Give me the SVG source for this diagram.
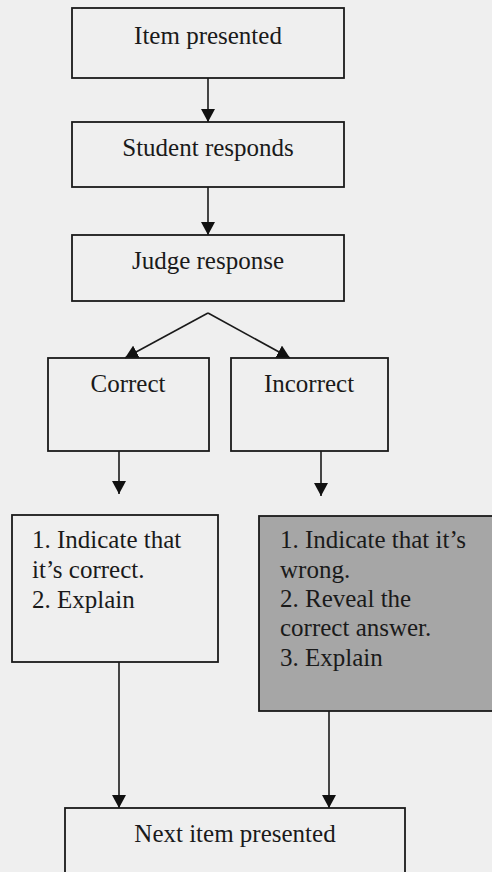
<svg xmlns="http://www.w3.org/2000/svg" width="492" height="872" viewBox="0 0 492 872">
<style>
.box{fill:none;stroke:#1a1a1a;stroke-width:1.8}
.gray{fill:#a6a6a6;stroke:#1a1a1a;stroke-width:1.8}
.lbl{font-family:"Liberation Serif","Times New Roman",serif;font-size:25px;fill:#1a1a1a}
.mid{text-anchor:middle}
.conn{stroke:#1a1a1a;stroke-width:1.6;fill:none;marker-end:url(#ah)}
</style>
<defs>
<marker id="ah" markerUnits="userSpaceOnUse" markerWidth="14" markerHeight="14" refX="13" refY="7" orient="auto">
<path d="M0,0 L13,7 L0,14 z" fill="#111"/>
</marker>
</defs>
<rect x="0" y="0" width="492" height="872" fill="#efefef"/>
<g id="connectors">
<line class="conn" x1="208" y1="78" x2="208" y2="122"/>
<line class="conn" x1="208" y1="187" x2="208" y2="235"/>
<line class="conn" x1="208" y1="313" x2="125" y2="358"/>
<line class="conn" x1="208" y1="313" x2="290" y2="358"/>
<line class="conn" x1="119" y1="451" x2="119" y2="494"/>
<line class="conn" x1="321" y1="451" x2="321" y2="496"/>
<line class="conn" x1="119" y1="662" x2="119" y2="808"/>
<line class="conn" x1="329" y1="711" x2="329" y2="808"/>
</g>
<g id="item-presented">
<rect class="box" x="72" y="8" width="272" height="70"/>
<text class="lbl mid" x="208" y="44">Item presented</text>
</g>
<g id="student-responds">
<rect class="box" x="72" y="122" width="272" height="65"/>
<text class="lbl mid" x="208" y="156">Student responds</text>
</g>
<g id="judge-response">
<rect class="box" x="72" y="235" width="272" height="66"/>
<text class="lbl mid" x="208" y="269">Judge response</text>
</g>
<g id="correct">
<rect class="box" x="48" y="358" width="161" height="93"/>
<text class="lbl mid" x="128" y="392">Correct</text>
</g>
<g id="incorrect">
<rect class="box" x="231" y="358" width="157" height="93"/>
<text class="lbl mid" x="309" y="392">Incorrect</text>
</g>
<g id="correct-feedback">
<rect class="box" x="12" y="515" width="206" height="147"/>
<text class="lbl" x="32" y="548">1. Indicate that</text>
<text class="lbl" x="32" y="578">it’s correct.</text>
<text class="lbl" x="32" y="608">2. Explain</text>
</g>
<g id="incorrect-feedback">
<rect class="gray" x="259" y="516" width="240" height="195"/>
<text class="lbl" x="280" y="548">1. Indicate that it’s</text>
<text class="lbl" x="280" y="578">wrong.</text>
<text class="lbl" x="280" y="607">2. Reveal the</text>
<text class="lbl" x="280" y="636">correct answer.</text>
<text class="lbl" x="280" y="666">3. Explain</text>
</g>
<g id="next-item">
<rect class="box" x="65" y="808" width="340" height="80"/>
<text class="lbl mid" x="235" y="842">Next item presented</text>
</g>
</svg>
